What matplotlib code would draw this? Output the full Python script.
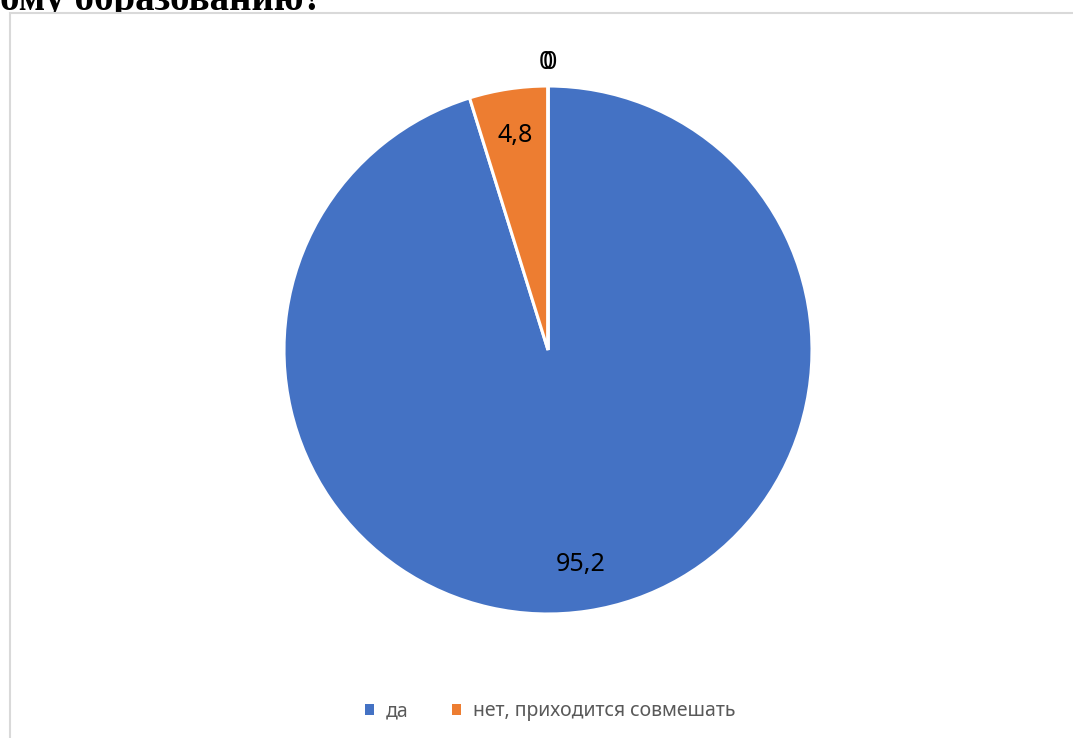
import matplotlib.pyplot as plt
from matplotlib.patches import Rectangle
from matplotlib.transforms import offset_copy
import numpy as np

categories = ['да', 'нет, приходится совмешать', '', '']
values = [95.2, 4.8, 0, 0]
value_labels = ['95,2', '4,8', '0', '0']
colors = ['#4472C4', '#ED7D31', '#A5A5A5', '#FFC000']
title_fragment = 'ому образованию?'

W, H = 1073, 738
fig = plt.figure(figsize=(W / 100, H / 100), dpi=100)

# clipped title of the surrounding document
fig.text(0, 1 - 10 / H, title_fragment, family='Liberation Serif', weight='bold',
         fontsize=28, va='baseline', ha='left', zorder=0)

# chart area box pasted over the text
fig.patches.append(Rectangle((10 / W, -0.01), 1.1, 1 - 12.5 / H + 0.01,
                             transform=fig.transFigure, facecolor='white',
                             edgecolor='#D9D9D9', linewidth=1.5, zorder=1))

cx, cy, r = 548, 350, 264
ax = fig.add_axes([(cx - r) / W, (H - cy - r) / H, 2 * r / W, 2 * r / H])
ax.set_zorder(2)
wedges, _ = ax.pie(values, colors=colors, startangle=90, counterclock=False,
                   radius=1, wedgeprops=dict(edgecolor='white', linewidth=2.2))
ax.set_xlim(-1, 1)
ax.set_ylim(-1, 1)
ax.set_aspect('equal')
ax.axis('off')

# data labels at the wedge mid angles
nudge = [0, 0, -2, 2]
for i, (w, lab) in enumerate(zip(wedges, value_labels)):
    ang = np.deg2rad((w.theta1 + w.theta2) / 2)
    dist = 0.82 if values[i] > 0 else 1.09
    tr = offset_copy(ax.transData, fig=fig, x=nudge[i], y=0, units='dots')
    ax.text(dist * np.cos(ang), dist * np.sin(ang), lab, transform=tr,
            ha='center', va='center', fontsize=18,
            family=['Noto Sans', 'DejaVu Sans'], color='black')

handles = [w for w, c in zip(wedges, categories) if c]
names = [c for c in categories if c]
leg = fig.legend(handles, names, loc='center', bbox_to_anchor=(550 / W, 1 - 711 / H),
                 ncol=len(names), frameon=False, handlelength=0.5, handleheight=0.5,
                 handletextpad=0.6, columnspacing=2.2,
                 prop={'family': ['Noto Sans', 'DejaVu Sans'], 'size': 14})
for t in leg.get_texts():
    t.set_color('#595959')
for h in leg.legend_handles:
    h.set_edgecolor('none')

fig.savefig('out.png', dpi=100)
